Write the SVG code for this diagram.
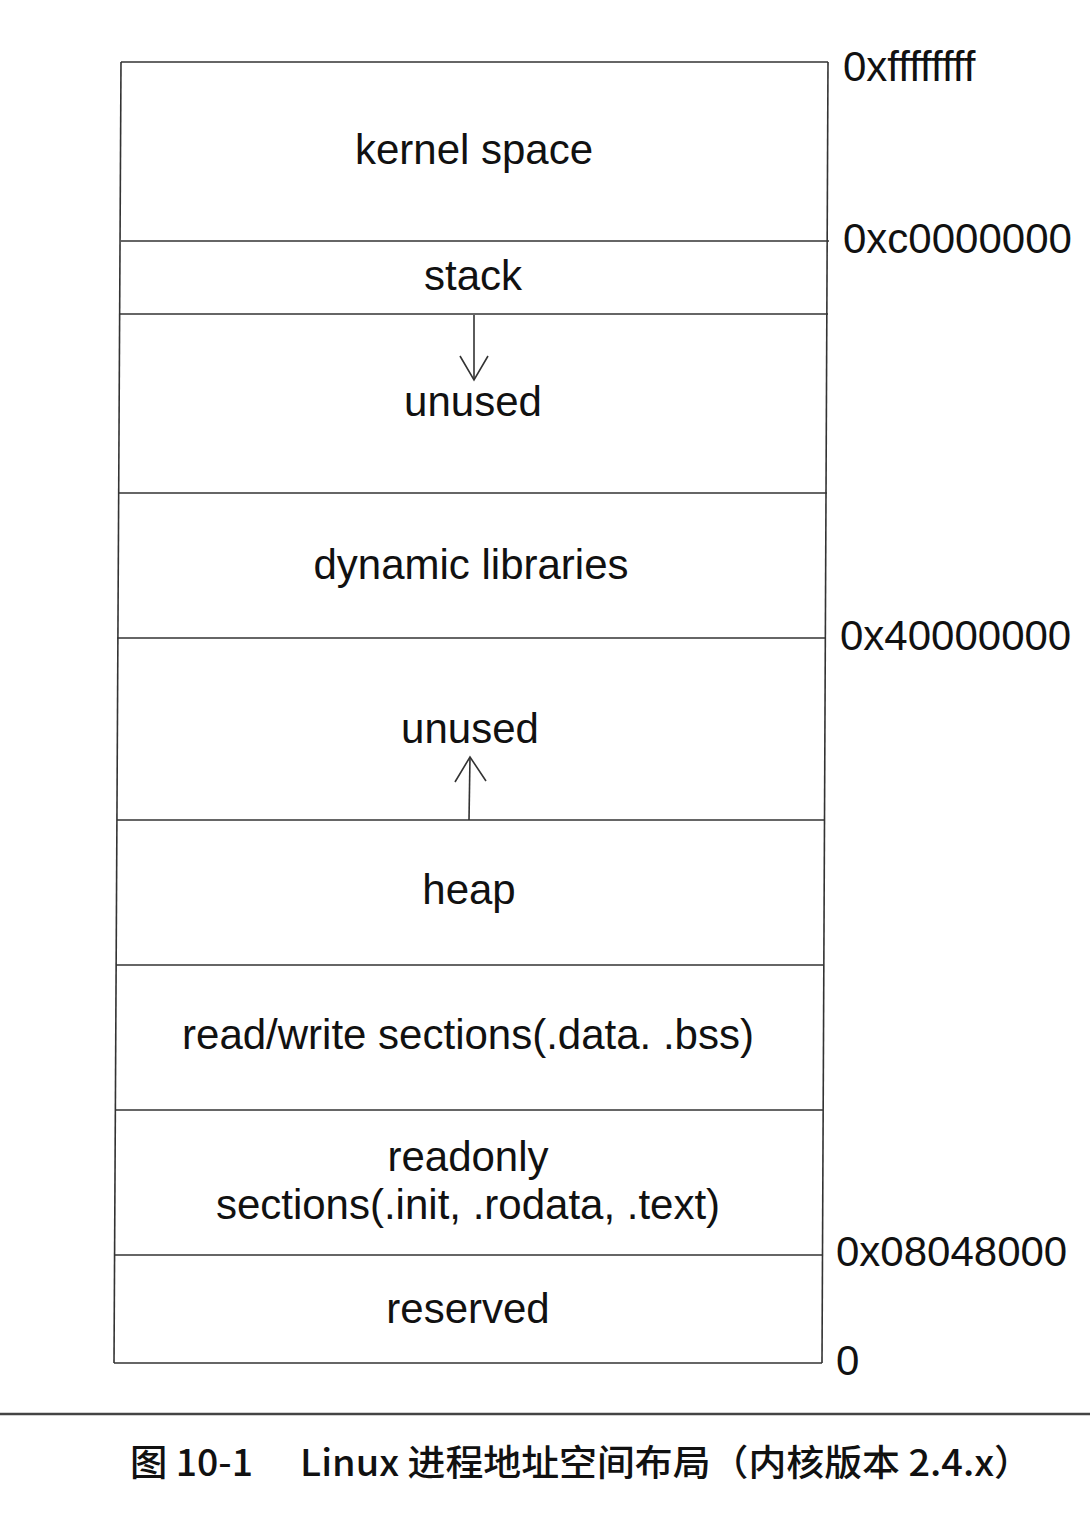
<svg xmlns="http://www.w3.org/2000/svg" width="1090" height="1536" viewBox="0 0 1090 1536">
<defs>
<style>
.ln{stroke:#333;stroke-width:1.6;fill:none}
.lbl{font-family:"Liberation Sans",Arial,sans-serif;font-size:42px;fill:#111;text-anchor:middle}
.addr{font-family:"Liberation Sans",Arial,sans-serif;font-size:42px;fill:#111}
.cap{font-family:"Noto Sans CJK SC","Liberation Sans",sans-serif;font-size:36px;fill:#111;font-weight:500}
.arr{stroke:#333;stroke-width:1.6;fill:none}
</style>
</defs>
<rect width="1090" height="1536" fill="#fff"/>
<g id="frame">
<line class="ln" x1="121" y1="62" x2="114" y2="1363"/>
<line class="ln" x1="828" y1="62" x2="822" y2="1363"/>
</g>
<g id="kernel-space">
<line class="ln" x1="121" y1="62" x2="828" y2="62"/>
<text class="lbl" x="474" y="164">kernel space</text>
</g>
<g id="stack">
<line class="ln" x1="121" y1="241" x2="829" y2="241"/>
<text class="lbl" x="473" y="290">stack</text>
</g>
<g id="unused-top">
<line class="ln" x1="120" y1="314" x2="828" y2="314"/>
<text class="lbl" x="473" y="416">unused</text>
</g>
<g id="dynamic-libraries">
<line class="ln" x1="119" y1="493" x2="827" y2="493"/>
<text class="lbl" x="471" y="579">dynamic libraries</text>
</g>
<g id="unused-bottom">
<line class="ln" x1="117" y1="638" x2="826" y2="638"/>
<text class="lbl" x="470" y="743">unused</text>
</g>
<g id="heap">
<line class="ln" x1="117" y1="820" x2="825" y2="820"/>
<text class="lbl" x="469" y="904">heap</text>
</g>
<g id="rw-sections">
<line class="ln" x1="116" y1="965" x2="823" y2="965"/>
<text class="lbl" x="468" y="1049">read/write sections(.data. .bss)</text>
</g>
<g id="ro-sections">
<line class="ln" x1="115" y1="1110" x2="823" y2="1110"/>
<text class="lbl" x="468" y="1171">readonly</text>
<text class="lbl" x="468" y="1219">sections(.init, .rodata, .text)</text>
</g>
<g id="reserved">
<line class="ln" x1="114" y1="1255" x2="822" y2="1255"/>
<line class="ln" x1="114" y1="1363" x2="822" y2="1363"/>
<text class="lbl" x="468" y="1323">reserved</text>
</g>
<g id="addresses">
<text class="addr" x="843" y="81">0xffffffff</text>
<text class="addr" x="843" y="253">0xc0000000</text>
<text class="addr" x="840" y="650">0x40000000</text>
<text class="addr" x="836" y="1266">0x08048000</text>
<text class="addr" x="836" y="1375">0</text>
</g>
<g id="connectors">
<line class="arr" x1="474" y1="315" x2="474" y2="380"/>
<polyline class="arr" points="460,356 474,380 488,356"/>
<line class="arr" x1="469" y1="820" x2="470" y2="757"/>
<polyline class="arr" points="455,782 470,757 486,781"/>
</g>
<g id="caption">
<line x1="0" y1="1414" x2="1090" y2="1414" stroke="#444" stroke-width="2.5"/>
<text class="cap" x="130" y="1476" textLength="123" lengthAdjust="spacingAndGlyphs">图 10-1</text>
<text class="cap" x="300" y="1476" textLength="732" lengthAdjust="spacingAndGlyphs">Linux 进程地址空间布局（内核版本 2.4.x）</text>
</g>
</svg>
